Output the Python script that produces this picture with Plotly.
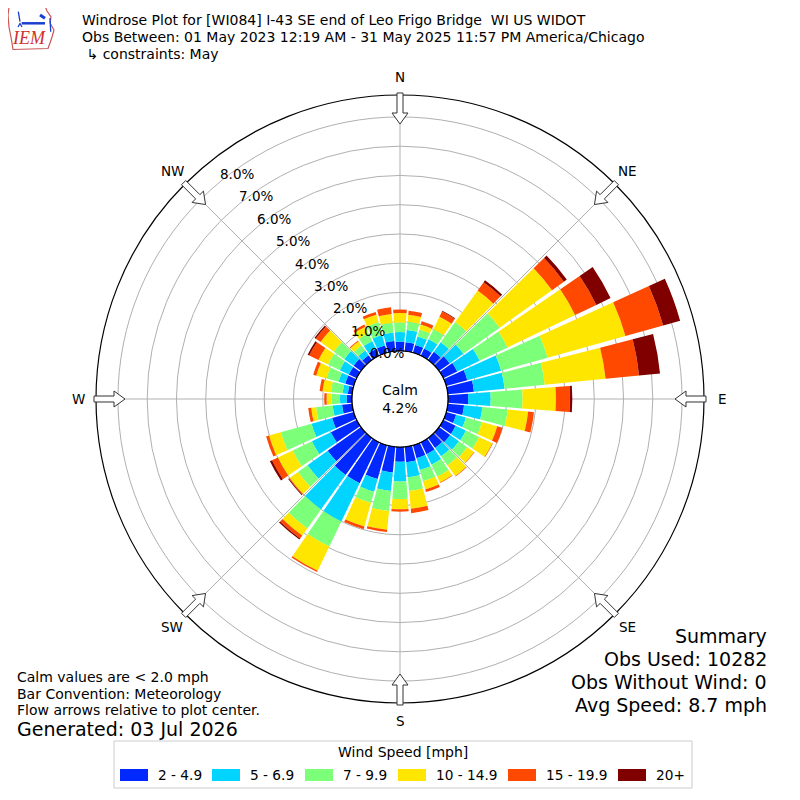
import numpy as np
import plotly.graph_objects as go

# ---- data (percent of observations) ----
directions = list(range(0, 360, 10))
speed_bins = ["2 - 4.9", "5 - 6.9", "7 - 9.9", "10 - 14.9", "15 - 19.9", "20+"]
bin_colors = ["#0028ff", "#00d4ff", "#7cff79", "#ffe600", "#ff4800", "#800000"]

spd_2_5 = [0.32, 0.31, 0.28, 0.27, 0.35, 0.45, 0.53, 0.75, 0.90, 0.69, 0.56, 0.35,
           0.47, 0.47, 0.42, 0.45, 0.46, 0.53, 0.50, 0.88, 1.20, 1.55, 1.55, 1.40,
           0.98, 0.77, 0.35, 0.18, 0.15, 0.30, 0.30, 0.31, 0.20, 0.25, 0.26, 0.35]
spd_5_7 = [0.33, 0.42, 0.30, 0.35, 0.40, 0.57, 0.85, 1.20, 1.05, 0.77, 0.63, 0.35,
           0.39, 0.37, 0.35, 0.40, 0.42, 0.52, 0.68, 0.64, 0.45, 1.45, 1.45, 0.85,
           0.72, 0.73, 0.32, 0.23, 0.18, 0.24, 0.34, 0.39, 0.20, 0.30, 0.37, 0.29]
spd_7_10 = [0.32, 0.28, 0.25, 0.38, 0.85, 1.53, 1.06, 1.65, 1.38, 1.09, 0.87, 0.57,
            0.50, 0.35, 0.38, 0.45, 0.40, 0.47, 0.60, 0.69, 0.40, 0.95, 0.80, 0.40,
            0.73, 1.09, 0.57, 0.29, 0.40, 0.43, 0.45, 0.44, 0.22, 0.30, 0.45, 0.34]
spd_10_15 = [0.33, 0.24, 0.17, 0.48, 1.32, 2.20, 2.56, 2.76, 2.09, 1.14, 0.70, 0.54,
             0.50, 0.28, 0.45, 0.22, 0.29, 0.61, 0.35, 0.64, 0.83, 0.92, 0.30, 0.35,
             0.56, 0.42, 0.17, 0.17, 0.29, 0.36, 0.36, 0.56, 0.17, 0.25, 0.27, 0.30]
spd_15_20 = [0.12, 0.14, 0.11, 0.20, 0.35, 0.50, 0.80, 1.34, 1.15, 0.48, 0.20, 0.19,
             0.02, 0.02, 0.02, 0.02, 0.09, 0.15, 0.08, 0.08, 0.10, 0.05, 0.12, 0.03,
             0.22, 0.10, 0.10, 0.08, 0.10, 0.11, 0.35, 0.20, 0.03, 0.08, 0.10, 0.23]
spd_20p = [0.00, 0.00, 0.01, 0.02, 0.08, 0.12, 0.54, 0.60, 0.72, 0.08, 0.00, 0.00,
           0.00, 0.00, 0.00, 0.00, 0.00, 0.00, 0.00, 0.00, 0.00, 0.00, 0.05, 0.03,
           0.08, 0.00, 0.00, 0.00, 0.00, 0.00, 0.06, 0.05, 0.00, 0.00, 0.00, 0.00]
series = [spd_2_5, spd_5_7, spd_7_10, spd_10_15, spd_15_20, spd_20p]

calm_pct = 4.2
rings = [0, 1, 2, 3, 4, 5, 6, 7, 8]
compass = ["N", "NE", "E", "SE", "S", "SW", "W", "NW"]
compass_deg = [0, 45, 90, 135, 180, 225, 270, 315]

title_lines = [
    "Windrose Plot for [WI084] I-43 SE end of Leo Frigo Bridge \u00a0WI US WIDOT",
    "Obs Between: 01 May 2023 12:19 AM - 31 May 2025 11:57 PM America/Chicago",
    " \u21b3 constraints: May",
]
notes = ["Calm values are < 2.0 mph", "Bar Convention: Meteorology",
         "Flow arrows relative to plot center."]
summary = ["Summary", "Obs Used: 10282", "Obs Without Wind: 0", "Avg Speed: 8.7 mph"]

FONT = "DejaVu Sans"
PAGE_OFF = 8           # default body margin of the html page
W = H = 800 - PAGE_OFF
CX, CY = 400, 399      # plot centre (page pixels)
R_OUT = 304            # outer circle radius, px
R_HOLE = 48            # calm circle radius, px
RMAX = 8.75
RING_LABEL_DEG = 320


def px(x):
    return (x - PAGE_OFF) / W


def py(y):
    return 1 - (y - PAGE_OFF) / H


def polar_px(r_px, deg):
    t = np.radians(deg)
    return CX + r_px * np.sin(t), CY - r_px * np.cos(t)


def path_of(points, close=True):
    p = "M" + " L".join(f"{px(x):.5f},{py(y):.5f}" for x, y in points)
    return p + (" Z" if close else "")


def text(x, y, s, size, xa="center", ya="middle", **font):
    return dict(x=px(x), y=py(y), text=s, showarrow=False, xanchor=xa, yanchor=ya,
                font=dict(size=size, **font))


fig = go.Figure()

for vals, name, col in zip(series, speed_bins, bin_colors):
    fig.add_trace(go.Barpolar(r=vals, theta=directions, width=8.8, name=name,
                              marker=dict(color=col, line=dict(width=0))))

# calm circle outline
ang = np.linspace(0, 360, 241)
fig.add_trace(go.Scatterpolar(r=np.zeros_like(ang), theta=ang, mode="lines",
                              line=dict(color="black", width=1.2),
                              cliponaxis=False, hoverinfo="skip"))

fig.update_layout(
    width=W, height=H, margin=dict(l=0, r=0, t=0, b=0),
    paper_bgcolor="white", showlegend=False,
    font=dict(family=FONT, color="black"),
    polar=dict(
        domain=dict(x=[px(CX - R_OUT), px(CX + R_OUT)],
                    y=[py(CY + R_OUT), py(CY - R_OUT)]),
        hole=R_HOLE / R_OUT,
        bgcolor="white",
        barmode="stack",
        radialaxis=dict(range=[0, RMAX], tickvals=rings[1:], showticklabels=False,
                        ticks="", showline=False, gridcolor="#b0b0b0", gridwidth=1),
        angularaxis=dict(rotation=90, direction="clockwise", tickvals=compass_deg,
                         showticklabels=False, ticks="", gridcolor="#b0b0b0",
                         showline=True, linecolor="black", linewidth=1.2),
    ),
)

shapes = []
annotations = []

# radial ring labels along the 320 degree ray
scale = (R_OUT - R_HOLE) / RMAX
for v in rings:
    x, y = polar_px(R_HOLE + v * scale, RING_LABEL_DEG)
    a = text(x, y, f"{v:.1f}%", 13.5, xa="left", ya="bottom")
    a["borderpad"] = 0
    annotations.append(a)

# flow arrows and compass labels
for lab, b in zip(compass, compass_deg):
    t = np.radians(b)
    s, c = np.sin(t), np.cos(t)
    outline = [(306, -3), (286, -3), (286, -8), (275, 0), (286, 8), (286, 3), (306, 3)]
    pts = [(CX + u * s + v * c, CY - u * c + v * s) for u, v in outline]
    shapes.append(dict(type="path", path=path_of(pts), xref="paper", yref="paper",
                       fillcolor="white", line=dict(color="#333333", width=1)))
    lx, ly = polar_px(322, b)
    annotations.append(text(lx, ly, lab, 13.5))

# calm label
annotations.append(text(CX, CY, f"Calm<br>{calm_pct:.1f}%", 14))

# title
for i, line in enumerate(title_lines):
    annotations.append(text(80, 20 + 17 * i, line, 14, xa="left"))

# notes, bottom left
for i, line in enumerate(notes):
    annotations.append(text(15, 677 + 16.5 * i, line, 14, xa="left"))
annotations.append(text(15, 729, "Generated: 03 Jul 2026", 19, xa="left"))

# summary, bottom right
for i, line in enumerate(summary):
    annotations.append(text(769, 636 + 23 * i, line, 19, xa="right"))

# legend box
shapes.append(dict(type="rect", xref="paper", yref="paper", x0=px(114), x1=px(692),
                   y0=py(788), y1=py(741), line=dict(color="#cccccc", width=1),
                   fillcolor="white", layer="below"))
annotations.append(text(403, 752, "Wind Speed [mph]", 14))
legend_x = [120, 212, 305, 398, 508, 618]
for x0, name, col in zip(legend_x, speed_bins, bin_colors):
    shapes.append(dict(type="rect", xref="paper", yref="paper", x0=px(x0),
                       x1=px(x0 + 28), y0=py(781), y1=py(769), fillcolor=col,
                       line=dict(width=0)))
    annotations.append(text(x0 + 36, 775, name, 13.7, xa="left"))

# IEM logo (rough sketch)
logo = [(9, 7), (45, 6), (47, 11), (51, 17), (50, 23), (54, 30), (52, 37),
        (50, 43), (48, 48.5), (13, 49.5), (11.5, 40), (9, 27), (8, 15)]
shapes.append(dict(type="path", xref="paper", yref="paper", path=path_of(logo),
                   line=dict(color="#cc5555", width=1.2)))
for seg, w in [([(21.7, 23.3), (45, 23.3)], 2.5), ([(18.3, 11.7), (20, 21.7)], 1.3),
               ([(40, 15), (45, 18.3)], 3), ([(50, 18), (50.7, 31.7)], 1.3),
               ([(18, 27), (20, 23.5), (22, 27)], 1.3)]:
    shapes.append(dict(type="path", xref="paper", yref="paper",
                       path=path_of(seg, close=False),
                       line=dict(color="#1a3fd0", width=w)))
annotations.append(text(29, 38, "<i>IEM</i>", 18, family="Liberation Serif",
                        color="#d03030"))

fig.update_layout(shapes=shapes, annotations=annotations)
fig.write_html("out.html")
